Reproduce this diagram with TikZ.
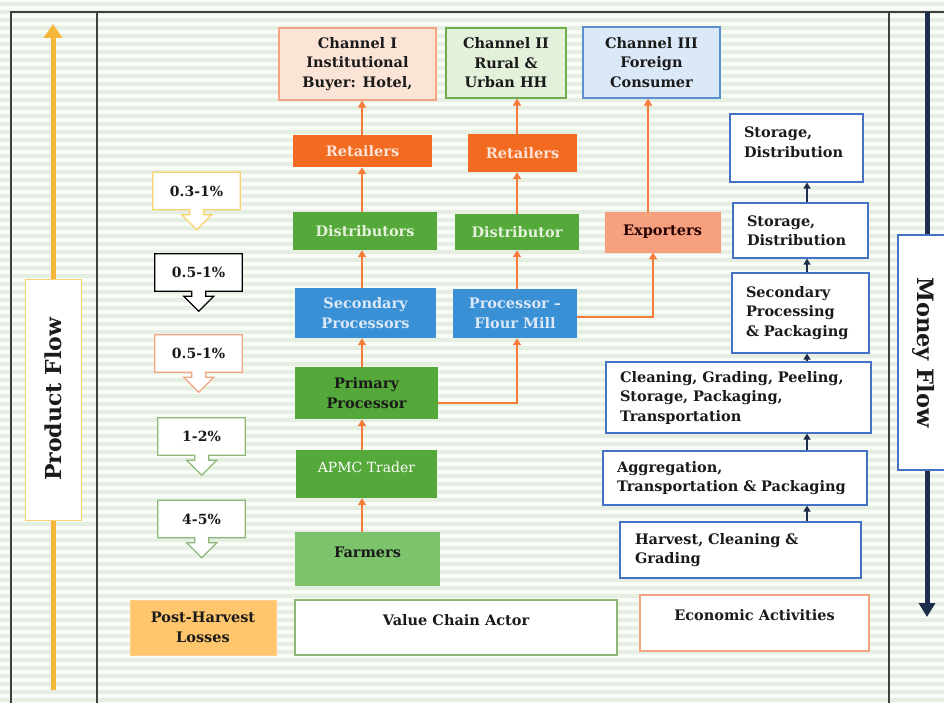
\documentclass[tikz,border=0pt]{standalone}
\usepackage{fontspec}
\setmainfont{DejaVu Serif}
\usetikzlibrary{arrows.meta}
\definecolor{bgA}{HTML}{F8FBF6}
\definecolor{bgB}{HTML}{E4EEE1}
\definecolor{frame}{HTML}{404040}
\definecolor{orgfill}{HTML}{F26B21}
\definecolor{orgarrow}{HTML}{F47B3A}
\definecolor{grnfill}{HTML}{55A93A}
\definecolor{grnlight}{HTML}{7CC36B}
\definecolor{bluefill}{HTML}{3A90D5}
\definecolor{salmon}{HTML}{F7A07F}
\definecolor{salmonbd}{HTML}{F08050}
\definecolor{chIfill}{HTML}{FBE3D6}
\definecolor{chIbd}{HTML}{F4A582}
\definecolor{chIIfill}{HTML}{E3F0DA}
\definecolor{chIIbd}{HTML}{6EAD4C}
\definecolor{chIIIfill}{HTML}{DAE8F7}
\definecolor{chIIIbd}{HTML}{5B8FD0}
\definecolor{actbd}{HTML}{4472C4}
\definecolor{navy}{HTML}{1F2D4D}
\definecolor{pfarrow}{HTML}{F5B73A}
\definecolor{yellowbd}{HTML}{F9D36B}
\definecolor{greenbd}{HTML}{8DB87A}
\definecolor{phlfill}{HTML}{FFC66D}
\definecolor{txtdark}{HTML}{1A1A1A}
\begin{document}
\begin{tikzpicture}[x=1pt,y=-1pt,
  base/.style={inner sep=0pt, align=center, text=txtdark,
    font=\bfseries\fontsize{14.5}{19.5}\selectfont},
  chan/.style={base, line width=1.2pt},
  actor/.style={base, text=white},
  act/.style={base, draw=actbd, fill=white, line width=1.2pt, align=left},
  oarr/.style={draw=orgarrow, line width=2.4pt, -{Triangle[length=7pt,width=8pt]}},
  barr/.style={draw=navy, line width=2.4pt, -{Triangle[length=6pt,width=7pt]}},
  loss/.style={base, minimum width=87pt, minimum height=37pt},
  lossshape/.style={fill=white, line width=1.2pt}
]
\useasboundingbox (0,0) rectangle (944,703);
% background stripes
\fill[bgA] (0,0) rectangle (944,703);
\foreach \k in {0,...,88} \fill[bgB] (0,{\k*8+2}) rectangle (944,{\k*8+6});
% frame
\draw[frame, line width=1.4pt] (11,703) -- (11,12) -- (944,12);
\draw[frame, line width=1.4pt] (97,12) -- (97,703);
\draw[frame, line width=1.4pt] (889,12) -- (889,703);

% product flow
\node[base, draw=yellowbd, fill=white, line width=1pt, minimum width=56pt, minimum height=241pt,
  font=\bfseries\fontsize{22}{24}\selectfont] (pf) at (53,399.5) {\rotatebox{90}{Product Flow}};
\coordinate (pfbot) at (53,690);
\coordinate (pftop) at (53,24);
\draw[pfarrow, line width=5pt] (pfbot) -- (pf.south);
\draw[pfarrow, line width=5pt, -{Triangle[length=14pt,width=18pt]}] (pf.north) -- (pftop);

% money flow
\node[base, draw=actbd, fill=white, line width=1.2pt, minimum width=52pt, minimum height=235pt,
  font=\bfseries\fontsize{22.5}{24}\selectfont] (mf) at (924,352.5) {\rotatebox{-90}{Money Flow}};
\coordinate (mftop) at (927,12);
\coordinate (mfbot) at (927,617);
\draw[navy, line width=5pt] (mftop) -- (mf.north -| mftop);
\draw[navy, line width=5pt, -{Triangle[length=14pt,width=16pt]}] (mf.south -| mftop) -- (mfbot);

% channels
\node[chan, draw=chIbd, fill=chIfill, minimum width=157pt, minimum height=72pt] (ch1) at (357.5,64) {Channel I\\Institutional\\Buyer: Hotel,};
\node[chan, draw=chIIbd, fill=chIIfill, minimum width=120pt, minimum height=70pt] (ch2) at (506,63) {Channel II\\Rural \&\\Urban HH};
\node[chan, draw=chIIIbd, fill=chIIIfill, minimum width=137pt, minimum height=71pt] (ch3) at (651.5,62.5) {Channel III\\Foreign\\Consumer};

% actors
\node[actor, fill=orgfill, text=chIfill, minimum width=139pt, minimum height=32pt] (ret1) at (362.5,151) {Retailers};
\node[actor, fill=orgfill, text=chIfill, minimum width=109pt, minimum height=38pt] (ret2) at (522.5,153) {Retailers};
\node[actor, fill=grnfill, text=chIIfill, minimum width=144pt, minimum height=38pt] (dist1) at (365,231) {Distributors};
\node[actor, fill=grnfill, text=chIIfill, minimum width=124pt, minimum height=36pt] (dist2) at (517,232) {Distributor};
\node[base, fill=salmon, draw=salmon!90!orgfill, line width=0.8pt, text=black!85!red, minimum width=115pt, minimum height=40pt] (exp) at (662.5,232) {Exporters};
\node[actor, fill=bluefill, text=chIIIfill, minimum width=141pt, minimum height=50pt] (sec) at (365.5,313) {Secondary\\Processors};
\node[actor, fill=bluefill, text=chIIIfill, minimum width=124pt, minimum height=49pt] (flour) at (515,313.5) {Processor --\\Flour Mill};
\node[base, fill=grnfill, minimum width=143pt, minimum height=52pt] (prim) at (366.5,393) {Primary\\Processor};
\node[actor, fill=grnfill, font=\fontsize{14}{19}\selectfont, minimum width=141pt, minimum height=48pt] (apmc) at (366.5,474) {APMC Trader\\[-6pt]\mbox{}};
\node[base, fill=grnlight, minimum width=145pt, minimum height=54pt] (farm) at (367.5,559) {Farmers\\[-6pt]\mbox{}};

% columns for connectors
\coordinate (c1) at (362,0);
\coordinate (c2) at (517,0);
\coordinate (c3) at (648,0);
\coordinate (c4) at (653,0);
\coordinate (c5) at (807,0);

\draw[oarr] (farm.north -| c1) -- (apmc.south -| c1);
\draw[oarr] (apmc.north -| c1) -- (prim.south -| c1);
\draw[oarr] (prim.north -| c1) -- (sec.south -| c1);
\draw[oarr] (sec.north -| c1) -- (dist1.south -| c1);
\draw[oarr] (dist1.north -| c1) -- (ret1.south -| c1);
\draw[oarr] (ret1.north -| c1) -- (ch1.south -| c1);
\draw[oarr] ([yshift=-10pt]prim.east) -| (flour.south -| c2);
\draw[oarr] (flour.north -| c2) -- (dist2.south -| c2);
\draw[oarr] (dist2.north -| c2) -- (ret2.south -| c2);
\draw[oarr] (ret2.north -| c2) -- (ch2.south -| c2);
\draw[oarr] ([yshift=-3.5pt]flour.east) -| (exp.south -| c4);
\draw[oarr] (exp.north -| c3) -- (ch3.south -| c3);

% economic activities
\node[act, minimum width=133pt, minimum height=68pt, text width=105pt] (s1) at (796.5,148) {Storage,\\Distribution\\[-8pt]\mbox{}};
\node[act, minimum width=135pt, minimum height=55pt, text width=107pt] (s2) at (800.5,230.5) {Storage,\\Distribution};
\node[act, minimum width=137pt, minimum height=80pt, text width=109pt] (s3) at (800.5,313) {Secondary\\Processing\\\& Packaging};
\node[act, minimum width=265pt, minimum height=71pt, text width=237pt] (s4) at (738.5,397.5) {Cleaning, Grading, Peeling,\\Storage, Packaging,\\Transportation};
\node[act, minimum width=264pt, minimum height=54pt, text width=236pt] (s5) at (735,478) {Aggregation,\\Transportation \& Packaging};
\node[act, minimum width=241pt, minimum height=56pt, text width=211pt] (s6) at (740.5,550) {Harvest, Cleaning \&\\Grading};
\draw[barr] (s6.north -| c5) -- (s5.south -| c5);
\draw[barr] (s5.north -| c5) -- (s4.south -| c5);
\draw[barr] (s4.north -| c5) -- (s3.south -| c5);
\draw[barr] (s3.north -| c5) -- (s2.south -| c5);
\draw[barr] (s2.north -| c5) -- (s1.south -| c5);

% losses
\foreach \n/\cx/\cy/\col/\t in {l1/196.5/191/yellowbd/0.3-1\%, l2/198.5/272.5/black/0.5-1\%,
  l3/198.5/353.5/chIbd/0.5-1\%, l4/201.5/436.5/greenbd/1-2\%, l5/201.5/519/greenbd/4-5\%}{
  \node[loss] (\n) at (\cx,\cy) {};
  \draw[lossshape, draw=\col] (\n.north west) -- (\n.north east) -- (\n.south east) -- ++(-36.5,0)
    -- ++(0,5) -- ++(8,0) -- ++(-15,15) -- ++(-15,-15) -- ++(8,0) -- ++(0,-5) -- (\n.south west) -- cycle;
  \node[base, font=\bfseries\fontsize{14}{16}\selectfont] at (\n) {\t};
}

% legend
\node[base, fill=phlfill, draw=phlfill!80!white, line width=1pt, minimum width=146pt, minimum height=55pt] (phl) at (203,627.5) {Post-Harvest\\Losses};
\node[base, fill=white, draw=greenbd, line width=1.2pt, minimum width=322pt, minimum height=55pt] (vca) at (456,627.5) {Value Chain Actor\\[-4pt]\mbox{}};
\node[base, fill=white, draw=chIbd, line width=1.2pt, minimum width=229pt, minimum height=56pt] (ea) at (754.5,623) {Economic Activities\\[-4pt]\mbox{}};
\end{tikzpicture}
\end{document}
